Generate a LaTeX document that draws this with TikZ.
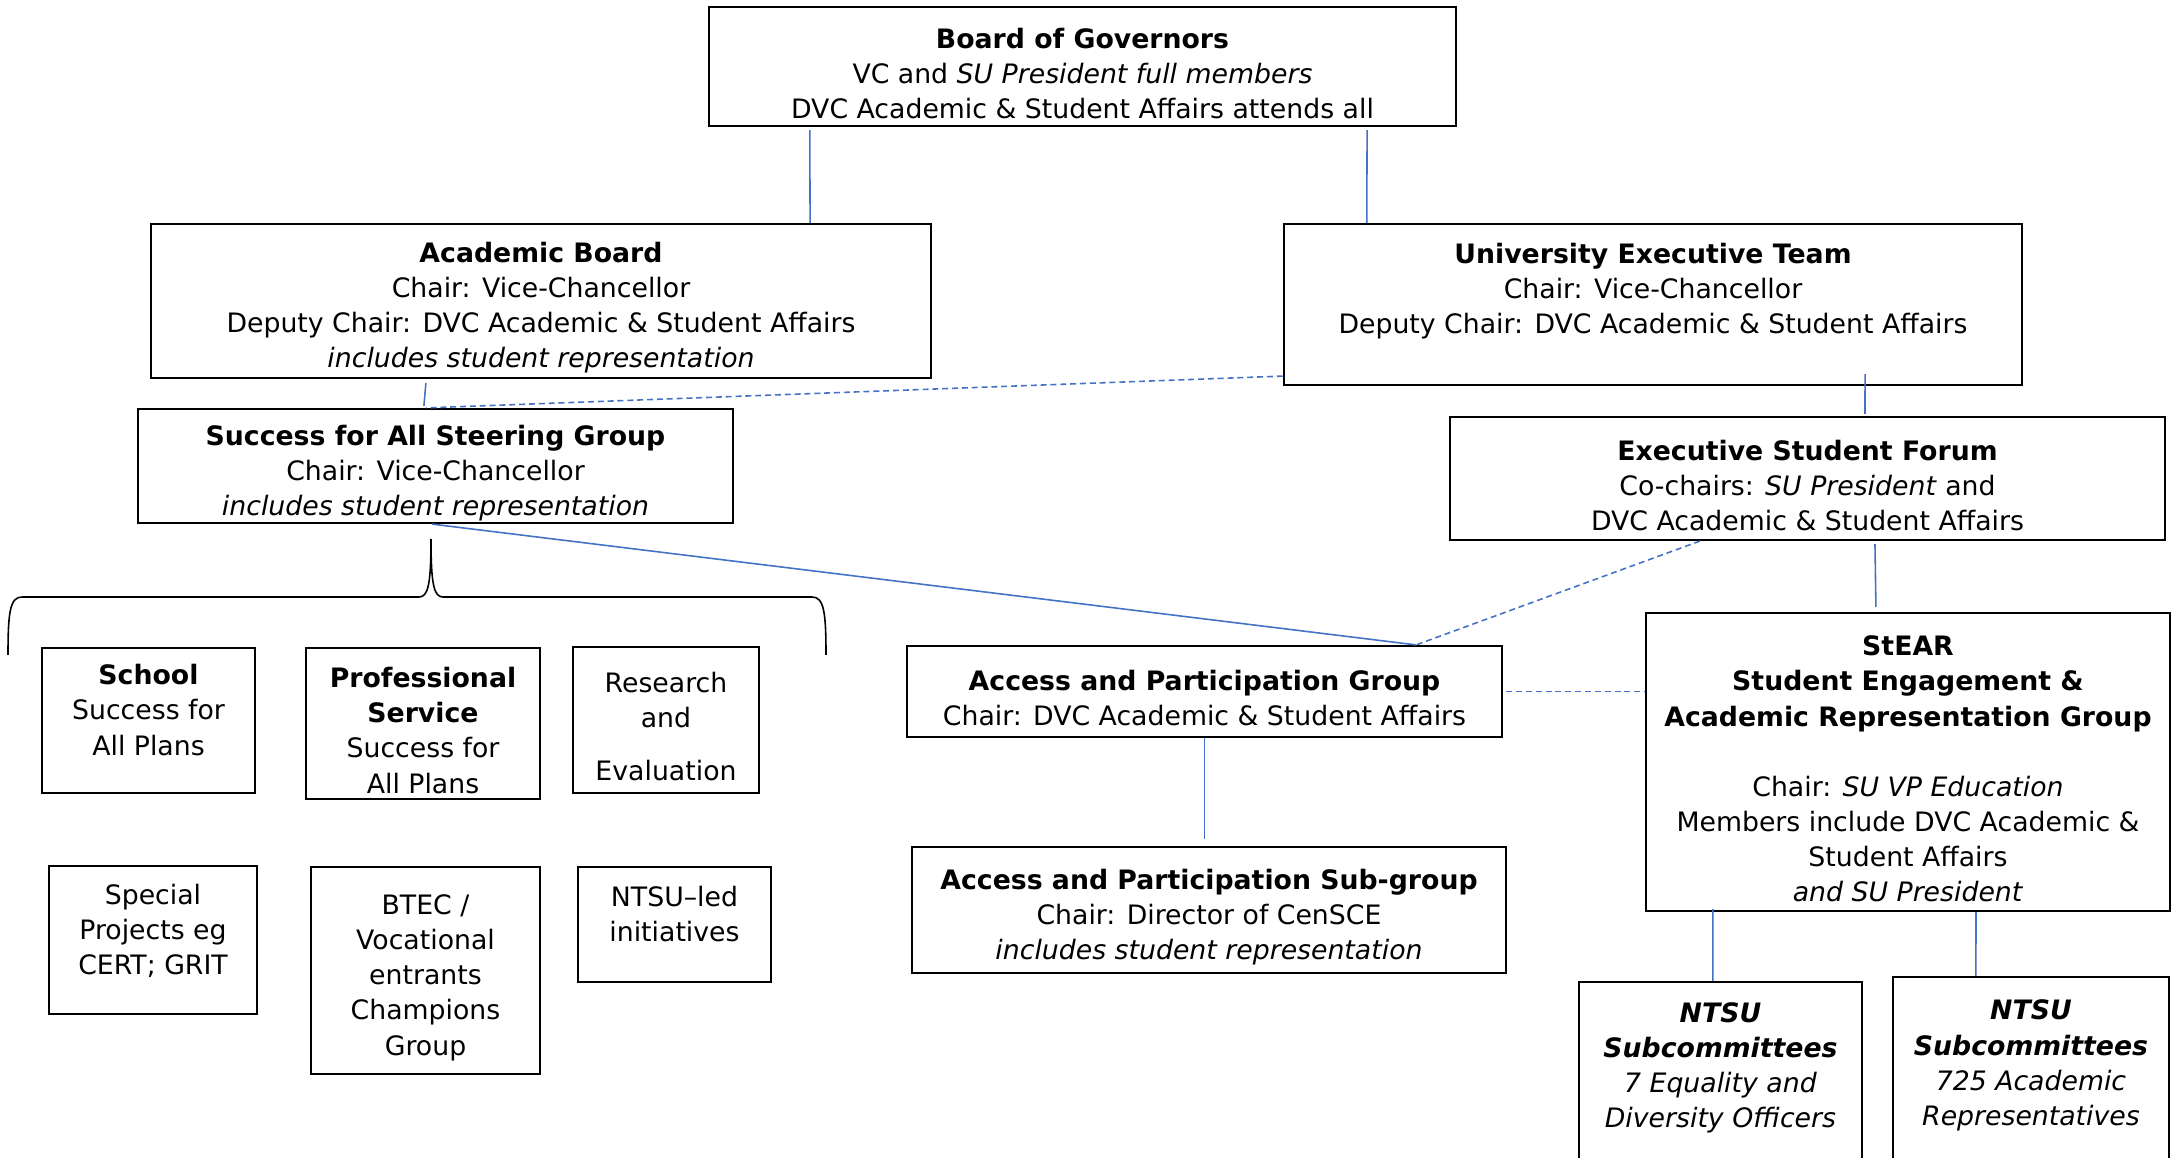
\documentclass[tikz,border=0pt]{standalone}
\usepackage{fontspec}
\setmainfont{DejaVu Sans}
\usepackage{tikz}
\usetikzlibrary{positioning, calc}
\definecolor{linkblue}{RGB}{68,114,196}
\newcommand{\tgap}{\rule{0pt}{0.34cm}}

\begin{document}
\begin{tikzpicture}[
    x=0.01cm, y=-0.01cm,
    font=\fontsize{7.6}{10}\selectfont,
    every node/.style={align=center},
    box/.style={draw, line width=0.6pt, inner xsep=2pt, inner ysep=0pt},
    link/.style={draw=linkblue, line width=0.45pt},
    dashlink/.style={link, dash pattern=on 1.7pt off 1.1pt}
]
    \useasboundingbox (0,0) rectangle (2174,1158);
    \clip (0,0) rectangle (2174,1158);

    % Governance tiers:
    \node[box, minimum width=7.47cm, minimum height=1.19cm] (bog) at (1082.5,66.5)
        {\tgap\textbf{Board of Governors}\\VC and \textit{SU President full members}\\DVC Academic \& Student Affairs attends all};
    \node[box, minimum width=7.80cm, minimum height=1.54cm] (ab) at (541,301)
        {\tgap\textbf{Academic Board}\\Chair: Vice-Chancellor\\Deputy Chair: DVC Academic \& Student Affairs\\\textit{includes student representation}};
    \node[box, minimum width=7.38cm, minimum height=1.61cm] (uet) at (1653,304.5)
        {\tgap\textbf{University Executive Team}\\Chair: Vice-Chancellor\\Deputy Chair: DVC Academic \& Student Affairs\\ \strut};
    \node[box, minimum width=5.95cm, minimum height=1.14cm] (sfa) at (435.5,466)
        {\tgap\textbf{Success for All Steering Group}\\Chair: Vice-Chancellor\\\textit{includes student representation}};
    \node[box, minimum width=7.15cm, minimum height=1.23cm] (esf) at (1807.5,478.5)
        {\tgap\textbf{Executive Student Forum}\\Co-chairs: \textit{SU President} and\\DVC Academic \& Student Affairs};
    \node[box, minimum width=5.24cm, minimum height=2.98cm] (stear) at (1908,762)
        {\tgap\textbf{StEAR}\\\textbf{Student Engagement \&}\\\textbf{Academic Representation Group}\\ \strut\\Chair: \textit{SU VP Education}\\Members include DVC Academic \&\\Student Affairs\\\textit{and SU President}};
    \node[box, minimum width=5.95cm, minimum height=0.91cm] (apg) at (1204.5,691.5)
        {\tgap\textbf{Access and Participation Group}\\Chair: DVC Academic \& Student Affairs};
    \node[box, minimum width=5.94cm, minimum height=1.26cm] (apsg) at (1209,910)
        {\tgap\textbf{Access and Participation Sub-group}\\Chair: Director of CenSCE\\\textit{includes student representation}};
    \node[box, minimum width=2.83cm, minimum height=1.98cm] (ntsua) at (1720.5,1081)
        {\tgap\textbf{\textit{NTSU}}\\\textbf{\textit{Subcommittees}}\\\textit{7 Equality and}\\\textit{Diversity Officers}\\ \strut};
    \node[box, minimum width=2.76cm, minimum height=2.03cm] (ntsub) at (2031,1078.5)
        {\tgap\textbf{\textit{NTSU}}\\\textbf{\textit{Subcommittees}}\\\textit{725 Academic}\\\textit{Representatives}\\ \strut};

    % Success for All strands:
    \node[box, minimum width=2.13cm, minimum height=1.45cm] (school) at (148.5,720.5)
        {\tgap\textbf{School}\\Success for\\All Plans\\ \mbox{}};
    \node[box, minimum width=2.34cm, minimum height=1.51cm] (prof) at (423,723.5)
        {\tgap\textbf{Professional}\\\textbf{Service}\\Success for\\All Plans};
    \node[box, minimum width=1.86cm, minimum height=1.46cm] (research) at (666,720)
        {\tgap Research\\and\\[0.18cm]Evaluation};
    \node[box, minimum width=2.08cm, minimum height=1.48cm] (special) at (153,940)
        {\tgap Special\\Projects eg\\CERT; GRIT\\ \mbox{}};
    \node[box, minimum width=2.29cm, minimum height=2.07cm] (btec) at (425.5,970.5)
        {\tgap BTEC /\\Vocational\\entrants\\Champions\\Group};
    \node[box, minimum width=1.93cm, minimum height=1.15cm] (ntsuled) at (674.5,924.5)
        {\tgap NTSU–led\\initiatives\\ \mbox{}};

    \path[link]
        ([xshift=1.02cm, yshift=-0.03cm]bog.south west) edge ([xshift=6.60cm]ab.north west)
        ([xshift=6.59cm, yshift=-0.03cm]bog.south west) edge ([xshift=0.84cm]uet.north west)
        ([xshift=2.76cm, yshift=-0.04cm]ab.south west) edge ([xshift=2.87cm, yshift=0.02cm]sfa.north west)
        ([xshift=5.82cm, yshift=0.12cm]uet.south west) edge ([xshift=4.16cm, yshift=0.02cm]esf.north west)
        ([xshift=4.26cm, yshift=-0.03cm]esf.south west) edge ([xshift=2.31cm, yshift=0.05cm]stear.north west)
        ([xshift=2.95cm]sfa.south west) edge ([xshift=5.10cm]apg.north west)
        (apg.south) edge[shorten >=0.07cm] (apg.south |- apsg.north)
        ([xshift=0.68cm, yshift=0.03cm]stear.south west) edge ([xshift=1.35cm]ntsua.north west)
        ([xshift=3.31cm]stear.south west) edge ([xshift=0.84cm]ntsub.north west);
    \path[dashlink]
        ([yshift=0.1cm]uet.south west) edge ([xshift=2.89cm]sfa.north west)
        ([xshift=2.51cm]esf.south west) edge ([xshift=5.10cm]apg.north west)
        ([xshift=0.03cm]apg.east) edge (apg.east -| stear.west);

    % brace under the steering group
    \draw[line width=0.45pt]
        (8,655) .. controls (8,612) and (10,597) .. (22,597)
        -- (419,597) .. controls (428,597) and (431,585) .. (431,539)
        .. controls (431,585) and (434,597) .. (443,597)
        -- (812,597) .. controls (824,597) and (826,612) .. (826,655);
\end{tikzpicture}
\end{document}
